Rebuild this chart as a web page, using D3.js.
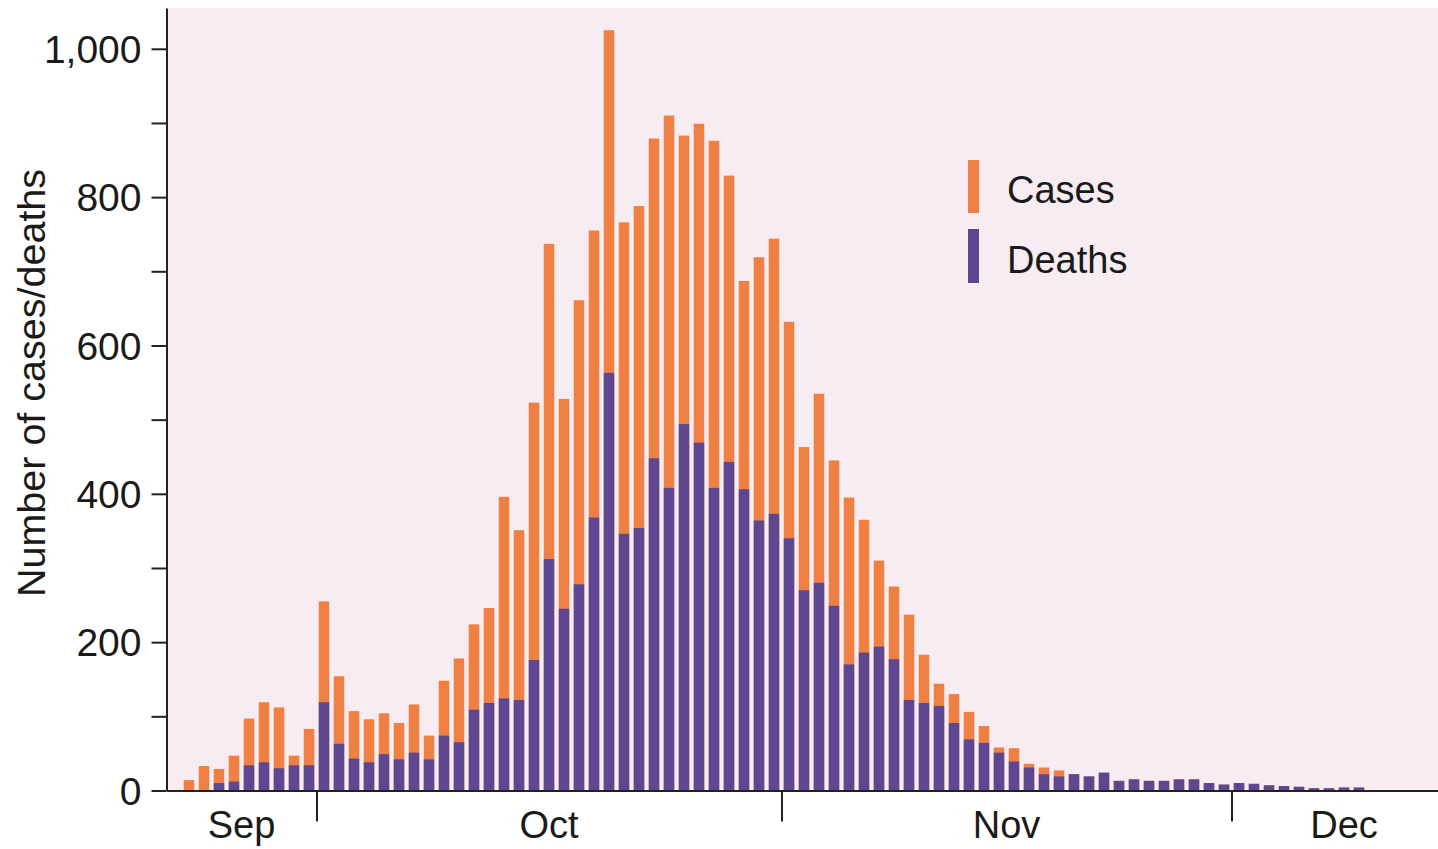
<!DOCTYPE html>
<html>
<head>
<meta charset="utf-8">
<script src="https://cdn.jsdelivr.net/npm/d3@7"></script>
<style>
  html, body { margin: 0; padding: 0; background: #ffffff; }
  svg { display: block; }
  text { font-family: "Liberation Sans", Arial, Helvetica, sans-serif; fill: #1a1a1a; }
</style>
</head>
<body>
<svg id="chart" width="1438" height="849"></svg>
<script>
// ---- Data (daily counts, 22 Sep – 9 Dec) ----
const startDate = "2000-09-22";
const cases = [
  14, 33, 29, 47, 97, 119, 112, 47, 83,                       // Sep 22-30
  255, 154, 107, 96, 104, 91, 116, 74, 148, 178,              // Oct 1-10
  224, 246, 396, 351, 523, 737, 528, 661, 755, 1025,          // Oct 11-20
  766, 788, 879, 910, 883, 899, 876, 829, 687, 719, 744,      // Oct 21-31
  632, 463, 535, 445, 395, 365, 310, 275, 237, 183,           // Nov 1-10
  144, 130, 106, 87, 58, 57, 36, 31, 27, 22,                  // Nov 11-20
  19, 24, 13, 15, 13, 13, 15, 15, 10, 8,                      // Nov 21-30
  10, 9, 7, 6, 5, 3, 3, 4, 4                                  // Dec 1-9
];
const deaths = [
  0, 0, 10, 12, 34, 38, 30, 34, 34,
  119, 63, 43, 38, 49, 42, 51, 42, 74, 65,
  109, 118, 124, 122, 176, 312, 245, 278, 368, 563,
  346, 354, 448, 408, 494, 469, 408, 443, 406, 364, 373,
  340, 270, 280, 249, 170, 186, 194, 177, 122, 118,
  114, 91, 69, 64, 51, 39, 31, 22, 19, 22,
  19, 24, 13, 15, 13, 13, 15, 15, 10, 8,
  10, 9, 7, 6, 5, 3, 3, 4, 4
];
const monthLabels = ["Sep", "Oct", "Nov", "Dec"];
const monthBoundaries = ["2000-10-01", "2000-11-01", "2000-12-01"];
const yTicks = [0, 100, 200, 300, 400, 500, 600, 700, 800, 900, 1000];
const seriesNames = ["Cases", "Deaths"];

// ---- Setup ----
const W = 1438, H = 849;
const svg = d3.select("#chart");
const parse = d3.utcParse("%Y-%m-%d");
const day0 = parse(startDate);
const data = cases.map((c, i) => ({ date: d3.utcDay.offset(day0, i), cases: c, deaths: deaths[i] }));

const domainStart = parse("2000-09-21");
const domainEnd = parse("2000-12-16");
const x = d3.scaleUtc().domain([domainStart, domainEnd]).range([166.5, 166.5 + 86 * 15]);
const y = d3.scaleLinear().domain([0, 1055]).range([790.5, 8]);

const colCases = "#ef7f42";
const colDeaths = "#5c4790";

// panel background
svg.append("rect")
  .attr("x", x(domainStart)).attr("y", y(1055))
  .attr("width", W - x(domainStart)).attr("height", y(0) - y(1055))
  .attr("fill", "#f7ecf1");

const dayW = x(d3.utcDay.offset(day0, 1)) - x(day0);
const barW = 10.5;
const barX = d => x(d.date) + (dayW - barW) / 2;

// bars
svg.append("g").selectAll("rect").data(data).join("rect")
  .attr("x", barX).attr("width", barW)
  .attr("y", d => y(d.cases)).attr("height", d => y(0) - y(d.cases))
  .attr("fill", colCases);
svg.append("g").selectAll("rect").data(data).join("rect")
  .attr("x", barX).attr("width", barW)
  .attr("y", d => y(d.deaths)).attr("height", d => y(0) - y(d.deaths))
  .attr("fill", colDeaths);

// y axis
const yAxis = d3.axisLeft(y).tickValues(yTicks).tickSize(15).tickSizeOuter(0).tickPadding(10)
  .tickFormat(d => d % 200 === 0 ? d3.format(",")(d) : "");
const gy = svg.append("g").attr("transform", `translate(${x(domainStart)},0)`).call(yAxis);
gy.select(".domain").attr("stroke", "#222").attr("stroke-width", 2);
gy.selectAll(".tick line").attr("stroke", "#222").attr("stroke-width", 2);
gy.selectAll(".tick text").attr("font-size", 39).attr("font-family", null).attr("dy", "0.35em");

// x axis
const xAxis = d3.axisBottom(x).tickValues(monthBoundaries.map(parse)).tickSize(31).tickSizeOuter(0).tickFormat("");
const gx = svg.append("g").attr("transform", `translate(0,${y(0)})`).call(xAxis);
gx.select(".domain").attr("stroke", "#222").attr("stroke-width", 2);
gx.selectAll(".tick line").attr("stroke", "#222").attr("stroke-width", 2);

// month labels centred on the visible part of each month
const edges = [domainStart, ...monthBoundaries.map(parse), domainEnd];
svg.append("g").selectAll("text").data(monthLabels).join("text")
  .attr("x", (d, i) => (x(edges[i]) + x(edges[i + 1])) / 2)
  .attr("y", 838)
  .attr("text-anchor", "middle")
  .attr("font-size", 38)
  .text(d => d);

// y axis title
svg.append("text")
  .attr("transform", `translate(45,383) rotate(-90)`)
  .attr("text-anchor", "middle")
  .attr("font-size", 39.5)
  .text("Number of cases/deaths");

// legend
const legend = svg.append("g");
const legendItems = [
  { name: seriesNames[0], color: colCases, y0: 160, y1: 213, ty: 203 },
  { name: seriesNames[1], color: colDeaths, y0: 229, y1: 283, ty: 273 }
];
legendItems.forEach(it => {
  legend.append("rect").attr("x", 968).attr("y", it.y0).attr("width", 11).attr("height", it.y1 - it.y0).attr("fill", it.color);
  legend.append("text").attr("x", 1007).attr("y", it.ty).attr("font-size", 38).text(it.name);
});
</script>
</body>
</html>
